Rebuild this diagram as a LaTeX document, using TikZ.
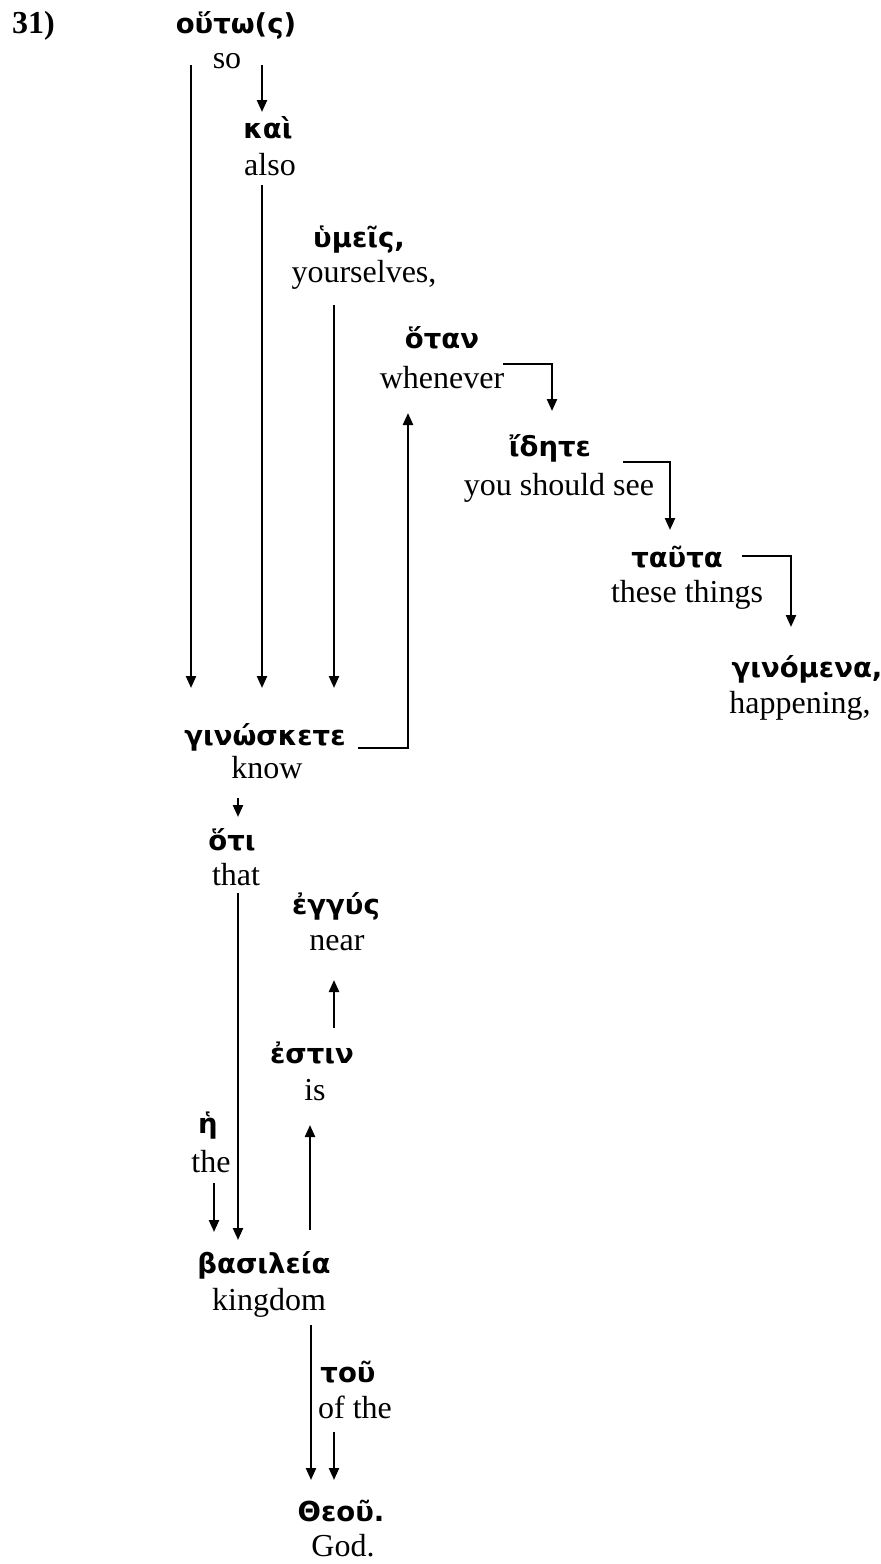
\documentclass[tikz,border=0pt]{standalone}
\usepackage{fontspec}
\setmainfont{Liberation Serif}
\newfontfamily\gkfont{DejaVu Sans}
\usetikzlibrary{arrows.meta,calc}
\begin{document}
\begin{tikzpicture}[x=1pt,y=-1pt,
  gk/.style={font=\gkfont\bfseries\fontsize{27.5}{30}\selectfont, anchor=base, inner sep=0pt},
  en/.style={font=\fontsize{32}{36}\selectfont, anchor=base, inner sep=0pt},
  arr/.style={line width=2.3pt, -{Triangle[length=12pt,width=10pt]}}]
\fill[white] (0,0) rectangle (881,1564);
\useasboundingbox (0,0) rectangle (881,1564);

% verse number
\node[en, anchor=base west, font=\bfseries\fontsize{32}{36}\selectfont] (num) at (12,33) {31)};

% words: Greek above, gloss below
\node[gk] (gsout)  at (236,33)   {οὕτω(ς)};
\node[en] (eso)    at (227,68)   {so};
\node[gk] (gkai)   at (268,138)  {καὶ};
\node[en] (ealso)  at (270,175)  {also};
\node[gk] (gumeis) at (359,247)  {ὑμεῖς,};
\node[en] (eyour)  at (364,282)  {yourselves,};
\node[gk] (gotan)  at (442,348)  {ὅταν};
\node[en] (ewhen)  at (442,388)  {whenever};
\node[gk] (gidete) at (550,456)  {ἴδητε};
\node[en] (esee)   at (559,495)  {you should see};
\node[gk] (gtauta) at (677,567)  {ταῦτα};
\node[en] (ethings) at (687,602) {these things};
\node[gk] (gginom) at (807,677)  {γινόμενα,};
\node[en] (ehapp)  at (800,713)  {happening,};
\node[gk] (ggin)   at (265,745)  {γινώσκετε};
\node[en] (eknow)  at (267,778)  {know};
\node[gk] (ghoti)  at (232,850)  {ὅτι};
\node[en] (ethat)  at (236,885)  {that};
\node[gk] (gengus) at (336,914)  {ἐγγύς};
\node[en] (enear)  at (337,950)  {near};
\node[gk] (gestin) at (312,1063) {ἐστιν};
\node[en] (eis)    at (315,1100) {is};
\node[gk] (gh)     at (208,1133) {ἡ};
\node[en] (ethe)   at (211,1172) {the};
\node[gk] (gbas)   at (264,1273) {βασιλεία};
\node[en] (eking)  at (269,1310) {kingdom};
\node[gk] (gtou)   at (348,1382) {τοῦ};
\node[en] (eofthe) at (355,1418) {of the};
\node[gk] (gtheou) at (341,1521) {Θεοῦ.};
\node[en] (egod)   at (343,1556) {God.};

% connector columns
\coordinate (cA) at (191,0);
\coordinate (cB) at (262,0);
\coordinate (cC) at (334,0);
\coordinate (cD) at (408,0);
\coordinate (cE) at (552,0);
\coordinate (cF) at (670,0);
\coordinate (cG) at (791,0);
\coordinate (cH) at (238,0);
\coordinate (cI) at (310,0);
\coordinate (cJ) at (214,0);
\coordinate (cK) at (311,0);

% connectors
\draw[arr] ($(eso.base -| cA)+(0,-3)$) -- ($(ggin.base -| cA)+(0,-57)$);
\draw[arr] ($(eso.base -| cB)+(0,-3)$) -- ($(gkai.base -| cB)+(0,-26)$);
\draw[arr] ($(ealso.base -| cB)+(0,10)$) -- ($(ggin.base -| cB)+(0,-57)$);
\draw[arr] ($(eyour.base -| cC)+(0,23)$) -- ($(ggin.base -| cC)+(0,-57)$);
\draw[arr] ($(ggin.base)+(93,3)$) -| ($(ewhen.base -| cD)+(0,25)$);
\draw[arr] ($(ewhen.base)+(61,-24)$) -| ($(gidete.base -| cE)+(0,-45)$);
\draw[arr] ($(gidete.base)+(73,6)$) -| ($(gtauta.base -| cF)+(0,-37)$);
\draw[arr] ($(gtauta.base)+(65,-11)$) -| ($(gginom.base -| cG)+(0,-50)$);
\draw[arr] ($(eknow.base -| cH)+(0,20)$) -- ($(ghoti.base -| cH)+(0,-33)$);
\draw[arr] ($(ethat.base -| cH)+(0,8)$) -- ($(gbas.base -| cH)+(0,-33)$);
\draw[arr] ($(gestin.base -| cC)+(0,-35)$) -- ($(enear.base -| cC)+(0,30)$);
\draw[arr] ($(gbas.base -| cI)+(0,-43)$) -- ($(eis.base -| cI)+(0,25)$);
\draw[arr] ($(ethe.base -| cJ)+(0,11)$) -- ($(gbas.base -| cJ)+(0,-41)$);
\draw[arr] ($(eking.base -| cK)+(0,15)$) -- ($(gtheou.base -| cK)+(0,-41)$);
\draw[arr] ($(eofthe.base -| cC)+(0,14)$) -- ($(gtheou.base -| cC)+(0,-41)$);
\end{tikzpicture}
\end{document}
